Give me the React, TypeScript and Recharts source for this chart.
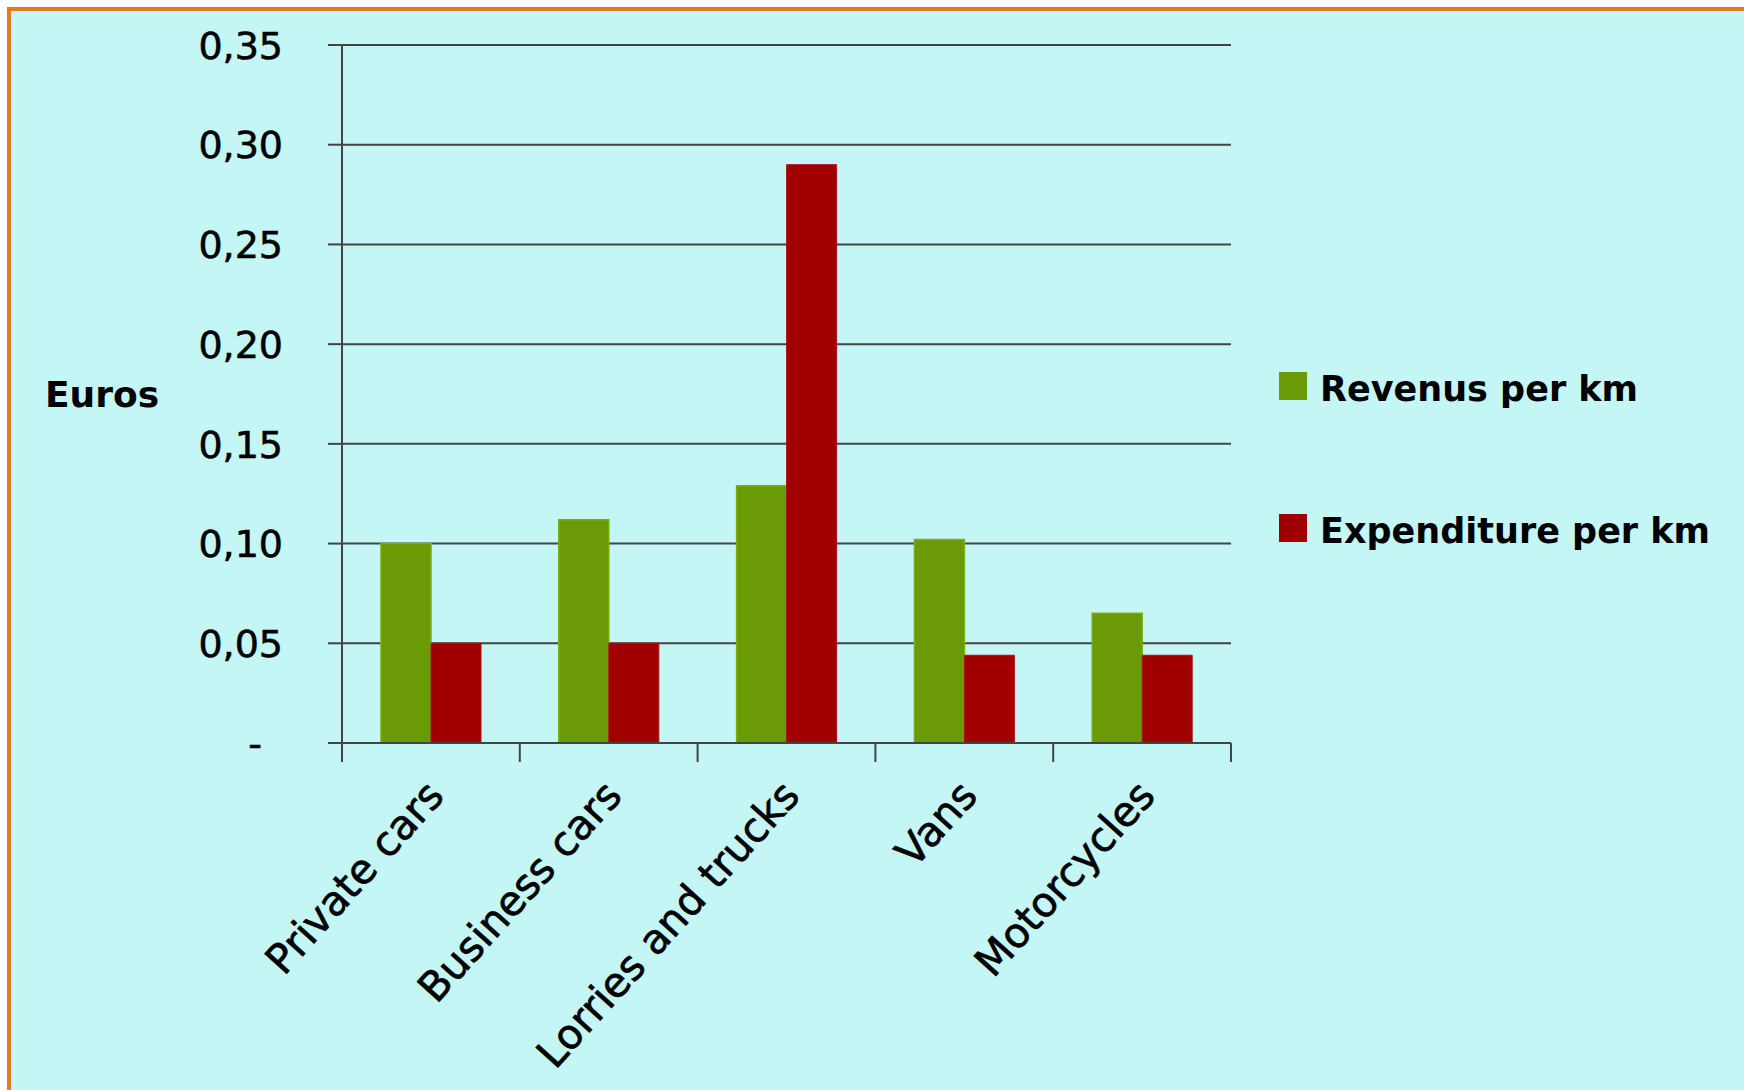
import React from 'react';
import { BarChart, Bar, XAxis, YAxis, CartesianGrid, Legend } from 'recharts';

// valeurs (euros par km)
const categories = ['Private cars', 'Business cars', 'Lorries and trucks', 'Vans', 'Motorcycles'];
const revenus = [0.1, 0.112, 0.129, 0.102, 0.065];
const expenditure = [0.05, 0.05, 0.29, 0.044, 0.044];
const seriesNames = ['Revenus per km', 'Expenditure per km'];
const yTicks = [0, 0.05, 0.1, 0.15, 0.2, 0.25, 0.3, 0.35];

const FONT = '"DejaVu Sans", Verdana, sans-serif';
const GREEN = '#6a9a06';
const RED = '#a00000';
const LINE = '#444';

const data = categories.map((name, i) => ({
  name,
  revenus: revenus[i],
  expenditure: expenditure[i],
}));

const fmt = (v: number) => (v === 0 ? '-' : v.toFixed(2).replace('.', ','));

function YTick(props: any) {
  const { x, y, payload } = props;
  const zero = payload.value === 0;
  return (
    <text
      x={zero ? x - 21 : x}
      y={y}
      dy="0.36em"
      textAnchor="end"
      fontSize={38}
      fontFamily={FONT}
      fill="#000"
      stroke="#000"
      strokeWidth={0.6}
    >
      {fmt(payload.value)}
    </text>
  );
}

// étiquette inclinée + petits traits aux limites des catégories (comme Excel)
function XTick(props: any) {
  const { x, y, payload, index } = props;
  const half = payload.offset || 0;
  const last = index === categories.length - 1;
  return (
    <g>
      <line x1={x - half} x2={x - half} y1={y} y2={y + 19} stroke={LINE} strokeWidth={2} />
      {last && <line x1={x + half} x2={x + half} y1={y} y2={y + 19} stroke={LINE} strokeWidth={2} />}
      <text
        transform={`translate(${x + 15},${y + 54}) rotate(-48)`}
        textAnchor="end"
        fontSize={41}
        fontFamily={FONT}
        fill="#000"
        stroke="#000"
        strokeWidth={0.7}
      >
        {payload.value}
      </text>
    </g>
  );
}

function LegendBox(props: any) {
  const items = [...(props.payload || [])].sort(
    (a: any, b: any) => seriesNames.indexOf(a.value) - seriesNames.indexOf(b.value)
  );
  return (
    <div style={{ fontFamily: FONT }}>
      {items.map((it: any, i: number) => (
        <div key={i} style={{ display: 'flex', alignItems: 'flex-start', height: 28, marginBottom: i === 0 ? 114 : 0 }}>
          <div style={{ width: 28, height: 28, background: it.color }} />
          <div style={{ marginLeft: 13, fontSize: 35, fontWeight: 'bold', lineHeight: '28px', position: 'relative', top: 3, whiteSpace: 'nowrap', color: '#000' }}>
            {it.value}
          </div>
        </div>
      ))}
    </div>
  );
}

export default function App() {
  return (
    <div
      style={{
        position: 'absolute',
        left: 7,
        top: 7,
        width: 1737,
        height: 1083,
        boxSizing: 'border-box',
        background: '#c4f6f6',
        borderTop: '4px solid #e8782a',
        borderLeft: '4px solid #e8782a',
      }}
    >
      <BarChart
        width={1733}
        height={1079}
        data={data}
        margin={{ top: 34, right: 513, bottom: 0, left: 0 }}
        barSize={50}
        barGap={0}
      >
        <CartesianGrid vertical={false} stroke={LINE} strokeWidth={2} />
        <XAxis
          dataKey="name"
          height={347}
          axisLine={{ stroke: LINE, strokeWidth: 2 }}
          tickLine={false}
          tickSize={0}
          tickMargin={0}
          interval={0}
          tick={<XTick />}
        />
        <YAxis
          width={331}
          domain={[0, 0.35]}
          ticks={yTicks}
          interval={0}
          axisLine={{ stroke: LINE, strokeWidth: 2 }}
          tickSize={14}
          tickMargin={45}
          tickLine={{ stroke: LINE, strokeWidth: 2 }}
          tick={<YTick />}
          label={{
            value: 'Euros',
            position: 'insideLeft',
            offset: 34,
            style: { fontFamily: FONT, fontSize: 36, fontWeight: 'bold', fill: '#000' },
          }}
        />
        <Legend
          layout="vertical"
          align="center"
          verticalAlign="middle"
          wrapperStyle={{ left: 1268, top: 361, width: 460 }}
          content={<LegendBox />}
        />
        <Bar dataKey="revenus" name={seriesNames[0]} fill={GREEN} stroke="#7cad12" strokeWidth={1.5} isAnimationActive={false} />
        <Bar dataKey="expenditure" name={seriesNames[1]} fill={RED} stroke="#b01010" strokeWidth={1} isAnimationActive={false} />
      </BarChart>
    </div>
  );
}
